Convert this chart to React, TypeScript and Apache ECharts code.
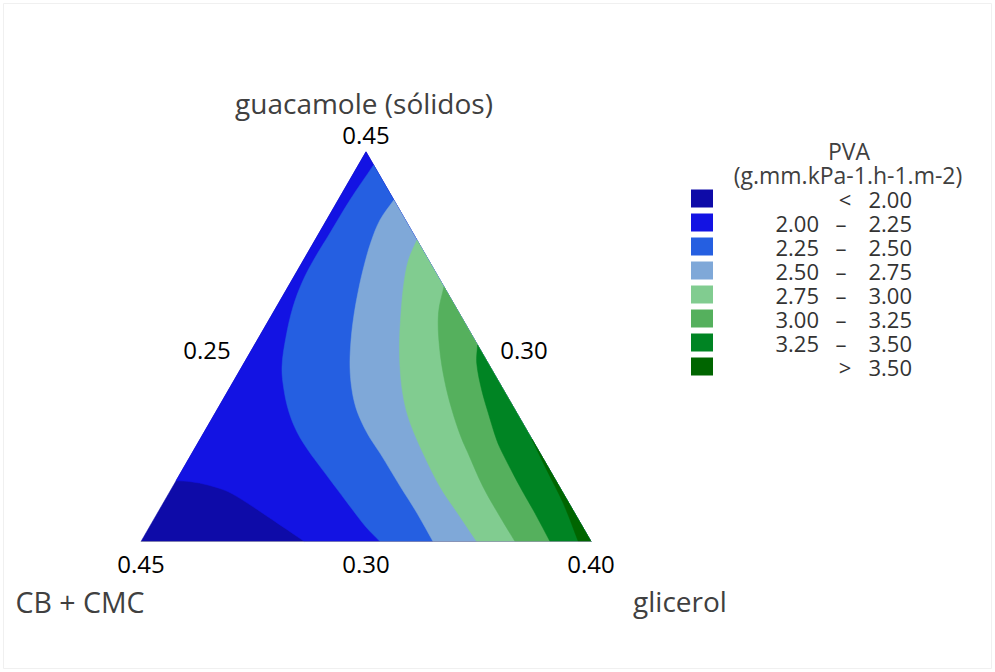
import React, { useEffect, useRef } from 'react';
import * as echarts from 'echarts';

// Legend bands (PVA levels)
const bandColors = ['#0E0BA8', '#1313E3', '#255FE1', '#7FA8D8', '#81CC90', '#55B05D', '#008423', '#006500'];
const bandLow = ['', '2.00', '2.25', '2.50', '2.75', '3.00', '3.25', ''];
const bandOp = ['<', '–', '–', '–', '–', '–', '–', '>'];
const bandHigh = ['2.00', '2.25', '2.50', '2.75', '3.00', '3.25', '3.50', '3.50'];
const bandNames = bandLow.map((l, i) => (l ? `${l} ${bandOp[i]} ${bandHigh[i]}` : `${bandOp[i]} ${bandHigh[i]}`));

// Contour lines, as [guacamole, glicerol] pseudo-component fractions
const contour200 = [[0.156, 0], [0.1535, 0.034], [0.145, 0.076], [0.128, 0.129], [0.098, 0.188], [0.0636, 0.25], [0.0295, 0.311], [0, 0.363]];
const contour225 = [[0.9661, 0.0339], [0.8763, 0.0262], [0.7916, 0.0242], [0.7224, 0.0225], [0.6659, 0.0255], [0.6017, 0.0369], [0.5248, 0.0598], [0.4478, 0.0894], [0.3888, 0.1234], [0.3323, 0.1627], [0.281, 0.2062], [0.2348, 0.2537], [0.186, 0.3092], [0.1347, 0.3682], [0.0834, 0.4272], [0.0372, 0.4814], [0, 0.5311]];
const contour250 = [[0.8763, 0.1237], [0.825, 0.1186], [0.7685, 0.1268], [0.707, 0.1421], [0.6454, 0.1606], [0.5812, 0.1827], [0.5171, 0.2082], [0.4478, 0.2405], [0.3888, 0.2745], [0.3426, 0.3065], [0.3041, 0.3391], [0.2656, 0.3761], [0.2271, 0.4175], [0.1424, 0.5044], [0.0731, 0.5767], [0, 0.6489]];
const contour275 = [[0.7737, 0.2263], [0.7224, 0.2332], [0.6633, 0.2527], [0.5864, 0.2846], [0.4991, 0.3248], [0.4144, 0.3706], [0.3503, 0.4115], [0.2989, 0.4505], [0.2271, 0.5131], [0.1406, 0.5941], [0.0636, 0.6771], [0, 0.746]];
const contour300 = [[0.6538, 0.3462], [0.5864, 0.3679], [0.4999, 0.4133], [0.4144, 0.4672], [0.3374, 0.5224], [0.2682, 0.577], [0.2271, 0.6131], [0.1406, 0.6897], [0.0636, 0.766], [0, 0.8311]];
const contour325 = [[0.5042, 0.4958], [0.4573, 0.5174], [0.3888, 0.5627], [0.3323, 0.6049], [0.2605, 0.6602], [0.2271, 0.6897], [0.1406, 0.7719], [0.0724, 0.8394], [0, 0.9089]];
const contour350 = [[0.263, 0.737], [0.1835, 0.8099], [0.098, 0.8894], [0, 0.9718]];

const apex = [1, 0];
const vertexBL = [0, 0];
const vertexBR = [0, 1];

// Axis tick labels and titles
const tickGuacTop = '0.45';
const tickLeftMid = '0.25';
const tickRightMid = '0.30';
const tickBottom = ['0.45', '0.30', '0.40'];
const titleTop = 'guacamole (sólidos)';
const titleLeft = 'CB + CMC';
const titleRight = 'glicerol';
const legendTitle = ['PVA', '(g.mm.kPa-1.h-1.m-2)'];

const FONT = '"Open Sans", "Noto Sans", sans-serif';

export default function App() {
  const ref = useRef<HTMLDivElement>(null);
  useEffect(() => {
    if (!ref.current) return;
    const chart = echarts.init(ref.current, undefined, { renderer: 'svg' });

    // Each band: contour line (smooth) closed along triangle edges (sharp corners)
    const bandPolys: { curve: number[][]; corners: number[][] }[] = [
      { curve: [], corners: [apex, vertexBL, vertexBR] },
      { curve: contour200, corners: [vertexBR, apex] },
      { curve: contour225, corners: [vertexBR] },
      { curve: contour250, corners: [vertexBR] },
      { curve: contour275, corners: [vertexBR] },
      { curve: contour300, corners: [vertexBR] },
      { curve: contour325, corners: [vertexBR] },
      { curve: contour350, corners: [vertexBR] },
    ];

    const toXY = (p: number[]) => [p[1] + p[0] / 2, p[0]];

    const series: any[] = bandPolys.map((band, i) => ({
      type: 'custom',
      name: bandNames[i],
      coordinateSystem: 'cartesian2d',
      itemStyle: { color: bandColors[i] },
      data: [[0.5, 0.5]],
      silent: true,
      renderItem: (params: any, api: any) => {
        const pts: number[][] = [];
        const c = band.curve;
        c.forEach((p, j) => {
          const q = api.coord(toXY(p));
          pts.push(q);
          if (j === 0 || j === c.length - 1) pts.push(q.slice());
        });
        band.corners.forEach((p) => {
          const q = api.coord(toXY(p));
          pts.push(q, q.slice());
        });
        return {
          type: 'polygon',
          shape: { points: pts, smooth: c.length ? 0.35 : 0 },
          style: { fill: bandColors[i], stroke: bandColors[i], lineWidth: 0.5 },
        };
      },
    }));
    series.push({
      type: 'custom',
      name: 'outline',
      coordinateSystem: 'cartesian2d',
      data: [[0.5, 0.5]],
      silent: true,
      renderItem: (params: any, api: any) => {
        const pts = [vertexBL, vertexBR].map((p) => api.coord(toXY(p)));
        return { type: 'polyline', shape: { points: pts }, style: { fill: 'none', stroke: 'rgba(150,150,170,0.7)', lineWidth: 1 } };
      },
    });

    const txt = (text: string, x: number, y: number, size: number, color: string, align = 'center') => ({
      type: 'text',
      x,
      y,
      silent: true,
      style: { text, fontSize: size, fontFamily: FONT, fill: color, textAlign: align, textVerticalAlign: 'middle' },
    });

    const LF = 22;
    const legendTexts: any[] = [];
    bandNames.forEach((_, i) => {
      const y = 199 + 24 * i;
      if (bandLow[i]) {
        legendTexts.push(txt(bandLow[i], 819, y, LF, '#333333', 'right'));
        legendTexts.push(txt(bandOp[i], 841, y, LF, '#333333', 'center'));
      } else {
        legendTexts.push(txt(bandOp[i], 845, y, LF, '#333333', 'center'));
      }
      legendTexts.push(txt(bandHigh[i], 912, y, LF, '#333333', 'right'));
    });

    chart.setOption({
      animation: false,
      backgroundColor: '#ffffff',
      grid: { left: 141, top: 151.8, width: 450, height: 389.7 },
      xAxis: { type: 'value', min: 0, max: 1, show: false },
      yAxis: { type: 'value', min: 0, max: 1, show: false },
      legend: {
        data: bandNames,
        orient: 'vertical',
        left: 691,
        top: 189.5,
        padding: 0,
        itemWidth: 22,
        itemHeight: 18,
        itemGap: 6,
        icon: 'rect',
        selectedMode: false,
        formatter: () => '',
        textStyle: { fontSize: 1, lineHeight: 1 },
      },
      graphic: [
        { type: 'rect', shape: { x: 3.5, y: 3.5, width: 988, height: 665 }, style: { fill: 'none', stroke: '#f0f0f0', lineWidth: 1 }, silent: true },
        txt(titleTop, 364, 103, 28, '#404040'),
        txt(tickGuacTop, 366, 134, 24, '#000000'),
        txt(tickLeftMid, 207, 349, 24, '#000000'),
        txt(tickRightMid, 524, 349, 24, '#000000'),
        txt(tickBottom[0], 141, 563, 24, '#000000'),
        txt(tickBottom[1], 366, 563, 24, '#000000'),
        txt(tickBottom[2], 591, 563, 24, '#000000'),
        txt(titleLeft, 80, 602, 28.5, '#404040'),
        txt(titleRight, 680, 601, 28, '#404040'),
        txt(legendTitle[0], 849, 151, 23, '#404040'),
        txt(legendTitle[1], 848, 175, 23, '#404040'),
        ...legendTexts,
      ],
      series,
    });
    return () => chart.dispose();
  }, []);
  return <div ref={ref} style={{ position: 'absolute', left: 0, top: 0, width: 995, height: 672 }} />;
}
